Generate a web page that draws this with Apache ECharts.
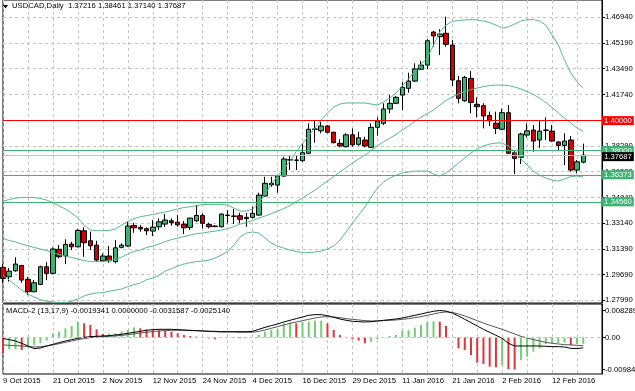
<!DOCTYPE html>
<html><head><meta charset="utf-8">
<script src="https://cdn.jsdelivr.net/npm/echarts@6/dist/echarts.min.js"></script>
<style>html,body{margin:0;padding:0;background:#fff}#c{width:635px;height:391px}</style>
</head><body><div id="c"></div>
<script>
const dates = ['9 Oct 2015','12 Oct 2015','13 Oct 2015','14 Oct 2015','15 Oct 2015','16 Oct 2015','19 Oct 2015','20 Oct 2015','21 Oct 2015','22 Oct 2015','23 Oct 2015','26 Oct 2015','27 Oct 2015','28 Oct 2015','29 Oct 2015','30 Oct 2015',
'2 Nov 2015','3 Nov 2015','4 Nov 2015','5 Nov 2015','6 Nov 2015','9 Nov 2015','10 Nov 2015','11 Nov 2015','12 Nov 2015','13 Nov 2015','16 Nov 2015','17 Nov 2015','18 Nov 2015','19 Nov 2015','20 Nov 2015','23 Nov 2015','24 Nov 2015','25 Nov 2015','26 Nov 2015','27 Nov 2015','30 Nov 2015',
'1 Dec 2015','2 Dec 2015','3 Dec 2015','4 Dec 2015','7 Dec 2015','8 Dec 2015','9 Dec 2015','10 Dec 2015','11 Dec 2015','14 Dec 2015','15 Dec 2015','16 Dec 2015','17 Dec 2015','18 Dec 2015','21 Dec 2015','22 Dec 2015','23 Dec 2015','24 Dec 2015','28 Dec 2015','29 Dec 2015','30 Dec 2015','31 Dec 2015',
'4 Jan 2016','5 Jan 2016','6 Jan 2016','7 Jan 2016','8 Jan 2016','11 Jan 2016','12 Jan 2016','13 Jan 2016','14 Jan 2016','15 Jan 2016','18 Jan 2016','19 Jan 2016','20 Jan 2016','21 Jan 2016','22 Jan 2016','25 Jan 2016','26 Jan 2016','27 Jan 2016','28 Jan 2016','29 Jan 2016',
'1 Feb 2016','2 Feb 2016','3 Feb 2016','4 Feb 2016','5 Feb 2016','8 Feb 2016','9 Feb 2016','10 Feb 2016','11 Feb 2016','12 Feb 2016','15 Feb 2016','16 Feb 2016','17 Feb 2016','18 Feb 2016','19 Feb 2016'];
const padCats = ['', '', ''];

const open = [1.3017,1.2954,1.2994,1.3030,1.2937,1.2854,1.2903,1.3021,1.2977,1.3138,
1.3093,1.3173,1.3155,1.3262,1.3195,1.3166,1.3061,1.3093,1.3055,1.3151,
1.3160,1.3298,1.3285,1.3276,1.3260,1.3289,1.3307,1.3329,1.3320,1.3307,
1.3285,1.3329,1.3365,1.3305,1.3294,1.3289,1.3364,1.3361,1.3363,1.3343,
1.3352,1.3367,1.3495,1.3580,1.3568,1.3629,1.3736,1.3734,1.3731,1.3781,
1.3942,1.3932,1.3964,1.3922,1.3848,1.3825,1.3905,1.3841,1.3870,1.3821,
1.3955,1.3982,1.4078,1.4116,1.4171,1.4216,1.4265,1.4344,1.4372,1.4593,
1.4562,1.4585,1.4506,1.4267,1.4133,1.4283,1.4109,1.4100,1.4035,1.3982,
1.3942,1.4053,1.3785,1.3754,1.3903,1.3937,1.3870,1.3937,1.3930,1.3857,
1.3834,1.3870,1.3669,1.37216];
const high = [1.3039,1.3014,1.3084,1.3033,1.2954,1.2932,1.3028,1.3051,1.3151,1.3166,
1.3205,1.3189,1.3274,1.3285,1.3256,1.3195,1.3111,1.3160,1.3200,1.3178,
1.3322,1.3316,1.3300,1.3285,1.3334,1.3345,1.3374,1.3345,1.3367,1.3327,
1.3350,1.3434,1.3379,1.3316,1.3300,1.3379,1.3401,1.3408,1.3383,1.3381,
1.3423,1.3517,1.3624,1.3624,1.3635,1.3758,1.3769,1.3769,1.3848,1.3982,
1.4004,1.3992,1.3970,1.3926,1.3875,1.3915,1.3948,1.3926,1.3892,1.3982,
1.4022,1.4116,1.4171,1.4165,1.4260,1.4321,1.4384,1.4401,1.4545,1.4602,
1.4612,1.4696,1.4540,1.4299,1.4299,1.4332,1.4156,1.4116,1.4060,1.4060,
1.4080,1.4104,1.3803,1.3919,1.3982,1.3970,1.4004,1.4022,1.3970,1.3861,
1.3915,1.3897,1.3736,1.38461];
const low = [1.2912,1.2921,1.2988,1.2914,1.2831,1.2850,1.2898,1.2932,1.2972,1.3077,
1.3039,1.3133,1.3151,1.3088,1.3133,1.3055,1.3057,1.3048,1.3044,1.3144,
1.3155,1.3249,1.3256,1.3233,1.3227,1.3267,1.3289,1.3296,1.3289,1.3240,
1.3267,1.3322,1.3278,1.3278,1.3287,1.3285,1.3312,1.3307,1.3312,1.3289,
1.3345,1.3363,1.3490,1.3557,1.3517,1.3624,1.3669,1.3669,1.3725,1.3776,
1.3852,1.3915,1.3915,1.3848,1.3821,1.3821,1.3825,1.3832,1.3821,1.3816,
1.3899,1.3970,1.4049,1.4111,1.4071,1.4187,1.4260,1.4339,1.4344,1.4495,
1.4439,1.4495,1.4232,1.4116,1.4126,1.4049,1.4022,1.3948,1.3964,1.3910,
1.3937,1.3776,1.3642,1.3709,1.3885,1.3792,1.3818,1.3870,1.3859,1.3803,
1.3702,1.3658,1.3647,1.37140];
const close = [1.2943,1.2992,1.3039,1.2932,1.2854,1.2914,1.3021,1.2977,1.3140,1.3088,
1.3171,1.3155,1.3265,1.3182,1.3162,1.3066,1.3093,1.3061,1.3148,1.3166,
1.3294,1.3282,1.3274,1.3262,1.3287,1.3322,1.3334,1.3316,1.3302,1.3282,
1.3347,1.3365,1.3312,1.3289,1.3290,1.3374,1.3367,1.3359,1.3339,1.3352,
1.3379,1.3501,1.3580,1.3570,1.3629,1.3743,1.3738,1.3736,1.3785,1.3942,
1.3944,1.3964,1.3922,1.3852,1.3830,1.3905,1.3838,1.3885,1.3830,1.3955,
1.3997,1.4078,1.4116,1.4156,1.4223,1.4265,1.4346,1.4372,1.4535,1.4567,
1.4580,1.4511,1.4272,1.4149,1.4290,1.4122,1.4093,1.4031,1.3999,1.3948,
1.4053,1.3781,1.3747,1.3910,1.3932,1.3863,1.3930,1.3935,1.3863,1.3834,
1.3863,1.3669,1.3724,1.37687];

const bbUpper = [1.3461,1.3471,1.3481,1.3485,1.3486,1.3485,1.3478,1.3468,1.3451,1.3428,
1.3408,1.3381,1.3347,1.3300,1.3267,1.3264,1.3262,1.3264,1.3274,1.3300,
1.3324,1.3344,1.3356,1.3364,1.3371,1.3381,1.3388,1.3398,1.3408,1.3418,
1.3423,1.3431,1.3438,1.3439,1.3439,1.3438,1.3434,1.3414,1.3394,1.3394,
1.3408,1.3448,1.3508,1.3575,1.3629,1.3676,1.3729,1.3793,1.3846,1.3900,
1.3950,1.4004,1.4051,1.4091,1.4111,1.4118,1.4118,1.4118,1.4118,1.4111,
1.4104,1.4125,1.4151,1.4185,1.4232,1.4279,1.4332,1.4379,1.4419,1.4506,
1.4594,1.4640,1.4664,1.4671,1.4674,1.4677,1.4674,1.4667,1.4657,1.4640,
1.4620,1.4627,1.4647,1.4667,1.4677,1.4677,1.4667,1.4640,1.4573,1.4506,
1.4406,1.4319,1.4259,1.4218];
const bbMiddle = [1.3211,1.3197,1.3187,1.3173,1.3163,1.3150,1.3140,1.3130,1.3116,1.3103,
1.3093,1.3083,1.3073,1.3063,1.3056,1.3055,1.3056,1.3063,1.3069,1.3086,
1.3106,1.3123,1.3133,1.3150,1.3160,1.3173,1.3190,1.3203,1.3213,1.3223,
1.3233,1.3243,1.3247,1.3254,1.3260,1.3267,1.3277,1.3290,1.3307,1.3317,
1.3331,1.3347,1.3361,1.3377,1.3394,1.3411,1.3431,1.3458,1.3481,1.3508,
1.3535,1.3565,1.3595,1.3625,1.3656,1.3686,1.3716,1.3743,1.3769,1.3800,
1.3830,1.3857,1.3883,1.3907,1.3937,1.3964,1.3994,1.4024,1.4047,1.4071,
1.4104,1.4135,1.4158,1.4178,1.4195,1.4208,1.4218,1.4228,1.4235,1.4238,
1.4238,1.4235,1.4225,1.4212,1.4195,1.4175,1.4151,1.4121,1.4088,1.4051,
1.4017,1.3984,1.3950,1.3927];
const bbLower = [1.2965,1.2932,1.2898,1.2865,1.2838,1.2818,1.2801,1.2791,1.2785,1.2781,
1.2781,1.2791,1.2805,1.2825,1.2838,1.2845,1.2848,1.2858,1.2865,1.2872,
1.2888,1.2902,1.2912,1.2935,1.2945,1.2965,1.2992,1.3009,1.3026,1.3039,
1.3049,1.3056,1.3059,1.3066,1.3079,1.3099,1.3123,1.3166,1.3220,1.3247,
1.3254,1.3247,1.3213,1.3180,1.3160,1.3146,1.3133,1.3123,1.3116,1.3116,
1.3120,1.3126,1.3140,1.3160,1.3200,1.3254,1.3314,1.3367,1.3421,1.3488,
1.3548,1.3588,1.3615,1.3635,1.3649,1.3656,1.3662,1.3662,1.3662,1.3642,
1.3629,1.3649,1.3682,1.3716,1.3749,1.3783,1.3810,1.3830,1.3843,1.3850,
1.3850,1.3830,1.3790,1.3743,1.3702,1.3662,1.3635,1.3615,1.3602,1.3595,
1.3609,1.3625,1.3629,1.3622];

const macdHist = [-0.00486,-0.00364,-0.00364,-0.00384,-0.00261,-0.00230,-0.00179,-0.00097,0.00128,0.00179,
0.00282,0.00353,0.00486,0.00435,0.00384,0.00251,0.00108,0.00118,0.00128,0.00179,
0.00230,0.00312,0.00282,0.00251,0.00230,0.00220,0.00210,0.00179,0.00128,0.00077,
0.00046,0.00026,0.00005,-0.00026,-0.00056,-0.00005,-0.00005,-0.00015,-0.00026,-0.00026,
-0.00005,0.00077,0.00179,0.00230,0.00251,0.00435,0.00456,0.00435,0.00486,0.00486,
0.00517,0.00517,0.00435,0.00230,0.00077,0.00005,-0.00056,-0.00097,-0.00179,-0.00128,
-0.00056,-0.00005,0.00046,0.00077,0.00210,0.00220,0.00302,0.00384,0.00486,0.00497,
0.00486,0.00353,0.00000,-0.00333,-0.00384,-0.00538,-0.00773,-0.00814,-0.00896,-0.00917,
-0.00845,-0.00978,-0.00984,-0.00691,-0.00589,-0.00435,-0.00333,-0.00200,-0.00179,-0.00169,
-0.00159,-0.00230,-0.00200,-0.0019341];
const macdMain = [-0.00036,-0.00067,-0.00108,-0.00179,-0.00261,-0.00343,-0.00323,-0.00261,-0.00210,-0.00159,
-0.00108,-0.00067,-0.00026,0.00005,0.00026,0.00036,0.00046,0.00056,0.00077,0.00097,
0.00128,0.00159,0.00189,0.00220,0.00241,0.00251,0.00251,0.00251,0.00241,0.00230,
0.00220,0.00210,0.00200,0.00189,0.00189,0.00179,0.00179,0.00179,0.00179,0.00179,
0.00189,0.00251,0.00312,0.00364,0.00415,0.00476,0.00527,0.00579,0.00630,0.00681,
0.00702,0.00702,0.00671,0.00620,0.00568,0.00527,0.00497,0.00486,0.00476,0.00486,
0.00507,0.00527,0.00548,0.00568,0.00599,0.00640,0.00681,0.00720,0.00765,0.00805,
0.00829,0.00810,0.00750,0.00661,0.00558,0.00456,0.00353,0.00251,0.00159,0.00067,
-0.00026,-0.00179,-0.00261,-0.00261,-0.00261,-0.00261,-0.00261,-0.00271,-0.00282,-0.00282,
-0.00292,-0.00333,-0.00343,-0.0031587];
const macdSignal = [-0.00230,-0.00241,-0.00251,-0.00261,-0.00282,-0.00292,-0.00282,-0.00261,-0.00230,-0.00189,
-0.00149,-0.00108,-0.00067,-0.00036,-0.00005,0.00015,0.00026,0.00036,0.00046,0.00067,
0.00087,0.00108,0.00138,0.00159,0.00179,0.00200,0.00210,0.00220,0.00220,0.00220,
0.00210,0.00210,0.00200,0.00189,0.00179,0.00169,0.00169,0.00169,0.00159,0.00159,
0.00159,0.00189,0.00230,0.00282,0.00333,0.00384,0.00435,0.00476,0.00517,0.00558,
0.00599,0.00630,0.00640,0.00630,0.00609,0.00579,0.00558,0.00538,0.00517,0.00507,
0.00507,0.00517,0.00527,0.00538,0.00558,0.00579,0.00609,0.00640,0.00681,0.00722,
0.00763,0.00784,0.00773,0.00722,0.00661,0.00589,0.00517,0.00446,0.00374,0.00312,
0.00251,0.00179,0.00108,0.00036,-0.00015,-0.00067,-0.00108,-0.00149,-0.00179,-0.00200,
-0.00220,-0.00230,-0.00241,-0.0025140];

const priceTicks = [1.27990,1.29690,1.31390,1.33140,1.34840,1.36590,1.38290,1.40040,1.41740,1.43490,1.45190,1.46940];
const macdTicks = [0.008289, 0, -0.009840];
const levelValues = [1.40000, 1.38000, 1.36373, 1.34560];
const symbolName = 'USDCAD,Daily';
const macdName = 'MACD-2 (13,17,9)';

// ---- styling ----
const FONT = '"Liberation Sans", Arial, sans-serif';
const FS = 7.7;
const GREEN = '#3cb371';
const levelColors = ['#ff0000', GREEN, GREEN, GREEN];
const dash = {color:'#c4c4c4', type:[3,3], width:1};

const n = close.length;
const cats = dates.concat(padCats);
const candleData = open.map((o,i)=>[o, close[i], low[i], high[i]]);
const last = n - 1;
const histData = macdHist.map((v,i)=>({
  value: v,
  itemStyle: {color: (i>0 && v >= macdHist[i-1]) ? '#74cc74' : '#d9363e'}
}));

function boxLabel(text, bg, dy){
  return {show:true, position:'end', distance:0, formatter:text, offset:[0, dy],
    backgroundColor:bg, color:'#fff', fontSize:FS, fontFamily:FONT,
    padding:[1,2,0,2], lineHeight:8};
}
const levelMarks = levelValues.map((v,i)=>({
  yAxis: v,
  lineStyle: {color: levelColors[i], width: 1, type: 'solid'},
  label: boxLabel(v.toFixed(5), levelColors[i], 0)
}));
levelMarks.push({
  yAxis: close[last],
  lineStyle: {color:'#c0c0c0', width:1, type:'solid'},
  label: boxLabel(close[last].toFixed(5), '#000', 1.5)
});

const title1 = symbolName + '  ' + [open[last], high[last], low[last], close[last]].map(v=>v.toFixed(5)).join(' ');
const title2 = macdName + ' ' + [macdHist[last], 0, macdMain[last], macdSignal[last]].map(v=>v.toFixed(7)).join(' ');

const chart = echarts.init(document.getElementById('c'), null, {renderer:'canvas'});
chart.setOption({
  animation: false,
  backgroundColor: '#fff',
  textStyle: {fontFamily: FONT},
  title: [
    {text: title1, left: 12, top: 2, padding: 0, textStyle: {fontSize: FS, fontWeight:'normal', color:'#000', fontFamily: FONT}},
    {text: title2, left: 6, top: 307, padding: 0, textStyle: {fontSize: FS, fontWeight:'normal', color:'#000', fontFamily: FONT}}
  ],
  graphic: [{type:'polygon', shape:{points:[[3,5],[8,5],[5.5,8.5]]}, style:{fill:'#000'}}],
  grid: [
    {left:3, right:33, top:0, height:303, show:true, borderColor:'#000', borderWidth:1, backgroundColor:'#fff', outerBoundsMode:'none', containLabel:false},
    {left:3, right:33, top:304, height:70, show:true, borderColor:'#000', borderWidth:1, backgroundColor:'#fff', outerBoundsMode:'none', containLabel:false}
  ],
  xAxis: [
    {type:'category', gridIndex:0, data:cats, boundaryGap:false,
     axisLine:{show:false}, axisTick:{show:false}, axisLabel:{show:false},
     splitLine:{show:true, interval:3, lineStyle:dash}},
    {type:'category', gridIndex:1, data:cats, boundaryGap:false,
     axisLine:{show:false}, axisTick:{show:false},
     axisLabel:{show:true, interval:7, align:'left', fontSize:FS, color:'#000', margin:3, fontFamily:FONT, hideOverlap:false},
     splitLine:{show:true, interval:3, lineStyle:dash}}
  ],
  yAxis: [
    {type:'value', gridIndex:0, position:'right', min:1.27784, max:1.48079, z:0,
     axisLine:{show:true, lineStyle:{color:'#000', width:1}},
     axisTick:{show:true, length:3, customValues:priceTicks, lineStyle:{color:'#000'}},
     axisLabel:{show:true, customValues:priceTicks, formatter:v=>v.toFixed(5), fontSize:FS, color:'#000', margin:3, fontFamily:FONT},
     splitLine:{show:true, lineStyle:dash}},
    {type:'value', gridIndex:1, position:'right', min:-0.011223, max:0.010286, z:0,
     axisLine:{show:true, lineStyle:{color:'#000', width:1}},
     axisTick:{show:true, length:3, customValues:macdTicks, lineStyle:{color:'#000'}},
     axisLabel:{show:true, customValues:macdTicks, formatter:v=>(v===0?'0.00':v.toFixed(6)), fontSize:FS, color:'#000', margin:3, fontFamily:FONT},
     splitLine:{show:false}}
  ],
  series: [
    {type:'line', xAxisIndex:0, yAxisIndex:0, data:[], z:1, silent:true,
     markLine:{silent:true, precision:5, symbol:['none','none'], animation:false, data: levelMarks}},
    {type:'candlestick', xAxisIndex:0, yAxisIndex:0, data:candleData, barWidth:5, clip:false, z:3,
     itemStyle:{color:GREEN, color0:'#d40000', borderColor:'#000', borderColor0:'#000', borderWidth:1}},
    {type:'line', xAxisIndex:0, yAxisIndex:0, data:bbUpper, showSymbol:false, z:4, lineStyle:{color:'#55bb8a', width:1}},
    {type:'line', xAxisIndex:0, yAxisIndex:0, data:bbMiddle, showSymbol:false, z:4, lineStyle:{color:'#55bb8a', width:1}},
    {type:'line', xAxisIndex:0, yAxisIndex:0, data:bbLower, showSymbol:false, z:4, lineStyle:{color:'#55bb8a', width:1}},
    {type:'bar', xAxisIndex:1, yAxisIndex:1, data:histData, barWidth:2, z:2,
     markLine:{silent:true, precision:6, symbol:['none','none'], label:{show:false}, lineStyle:{color:'#c4c4c4', type:[3,3], width:1}, data:[{yAxis:0}]}},
    {type:'line', xAxisIndex:1, yAxisIndex:1, data:macdSignal, showSymbol:false, z:3, lineStyle:{color:'#555', width:1}},
    {type:'line', xAxisIndex:1, yAxisIndex:1, data:macdMain, showSymbol:false, z:3, lineStyle:{color:'#000', width:1}}
  ]
});
</script>
</body></html>
